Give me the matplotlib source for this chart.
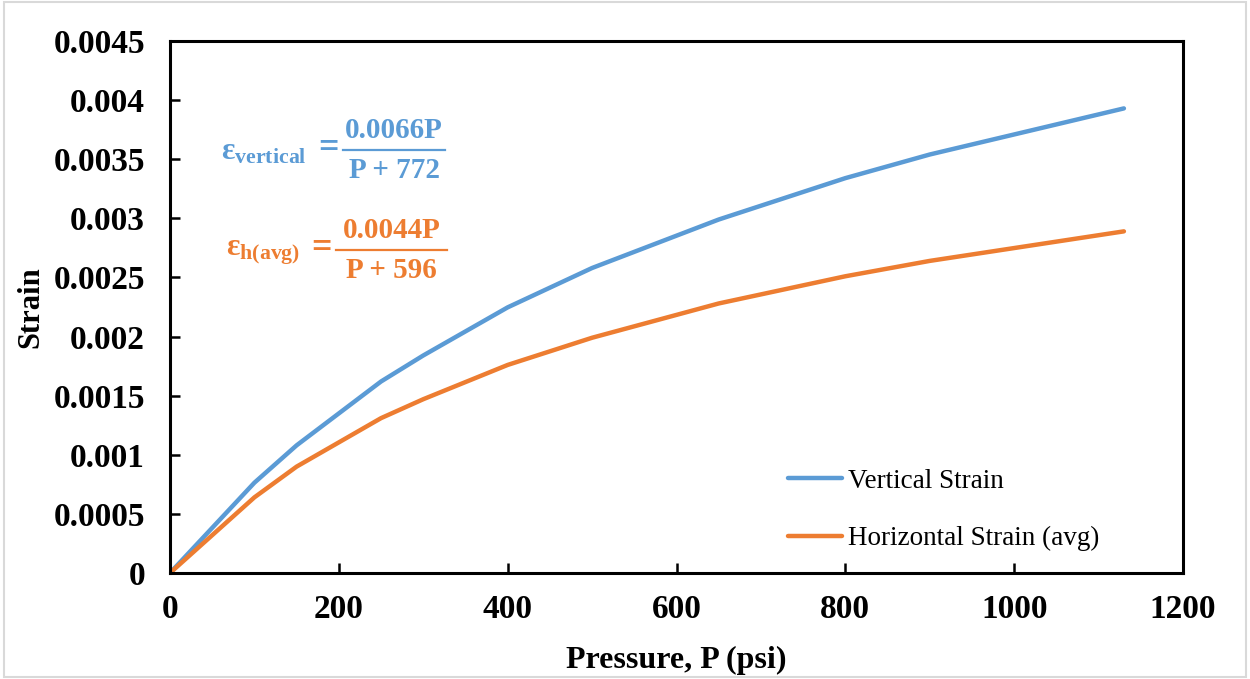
import numpy as np
import matplotlib
matplotlib.use("Agg")
import matplotlib.pyplot as plt
from matplotlib.patches import Rectangle

pressure = [0, 100, 150, 250, 300, 400, 500, 650, 800, 900, 1130]
vertical = [0, 0.000764, 0.00108, 0.00162, 0.00184, 0.002247, 0.00258, 0.00299, 0.00334, 0.00354, 0.00393]
horizontal = [0, 0.00064, 0.0009, 0.00131, 0.00147, 0.00176, 0.00199, 0.00228, 0.00251, 0.00264, 0.00289]

xticks = [0, 200, 400, 600, 800, 1000, 1200]
yticks = [0, 0.0005, 0.001, 0.0015, 0.002, 0.0025, 0.003, 0.0035, 0.004, 0.0045]
ytick_labels = ["0", "0.0005", "0.001", "0.0015", "0.002", "0.0025", "0.003", "0.0035", "0.004", "0.0045"]

blue = "#5B9BD5"
orange = "#ED7D31"

plt.rcParams["font.family"] = ["Liberation Serif", "DejaVu Serif"]
plt.rcParams["mathtext.fontset"] = "custom"
plt.rcParams["mathtext.rm"] = "Liberation Serif"
plt.rcParams["mathtext.bf"] = "Liberation Serif:bold"
plt.rcParams["mathtext.default"] = "bf"

fig = plt.figure(figsize=(12.5, 6.79), dpi=100)
ax = fig.add_axes([0.136, 0.1561, 0.8104, 0.7835])

ax.plot(pressure, vertical, color=blue, lw=3.2, label="Vertical Strain", solid_capstyle="round")
ax.plot(pressure, horizontal, color=orange, lw=3.2, label="Horizontal Strain (avg)", solid_capstyle="round")

ax.set_xlim(0, 1200)
ax.set_ylim(0, 0.0045)
ax.set_xticks(xticks)
ax.set_xticklabels([str(v) for v in xticks])
ax.set_yticks(yticks)
ax.set_yticklabels(ytick_labels)
ax.tick_params(direction="in", length=7, width=1.8, labelsize=24)
ax.tick_params(axis="x", pad=15)
ax.tick_params(axis="y", pad=18)
for lab in ax.get_xticklabels() + ax.get_yticklabels():
    lab.set_fontweight("bold")
for s in ax.spines.values():
    s.set_linewidth(2.2)

ax.set_xlabel("Pressure, P (psi)", fontsize=23, fontweight="bold", labelpad=15)
ax.set_ylabel("Strain", fontsize=22, fontweight="bold", labelpad=6)

# fitted equations, built as lhs = numerator / denominator
def fraction(lhs, num, den, xl, xe, x0, x1, ybar, color):
    ax.text(xl, ybar - 0.00002, lhs, color=color, fontsize=22.5, ha="right", va="center")
    ax.text(xe, ybar + 0.00001, "=", color=color, fontsize=26, fontweight="bold",
            ha="center", va="center")
    xc = (x0 + x1) / 2
    ax.text(xc, ybar + 0.00005, num, color=color, fontsize=21, fontweight="bold",
            ha="center", va="bottom")
    ax.text(xc, ybar - 0.00006, den, color=color, fontsize=21, fontweight="bold",
            ha="center", va="top")
    ax.plot([x0, x1], [ybar, ybar], color=color, lw=1.6)

fraction(r"$ε_{vertical}$", "0.0066P", "P + 772", 162, 188, 205, 326, 0.003578, blue)
fraction(r"$ε_{h(avg)}$", "0.0044P", "P + 596", 154, 179, 197, 328, 0.002732, orange)

leg = ax.legend(loc="lower right", bbox_to_anchor=(0.942, -0.005), frameon=False,
                fontsize=19.5, handlelength=2.0, labelspacing=1.2, handletextpad=0.25)

fig.patches.append(Rectangle((0.003, 0.003), 0.994, 0.994, transform=fig.transFigure,
                             fill=False, edgecolor="#d9d9d9", lw=1.5))

fig.savefig("out.png", dpi=100)
